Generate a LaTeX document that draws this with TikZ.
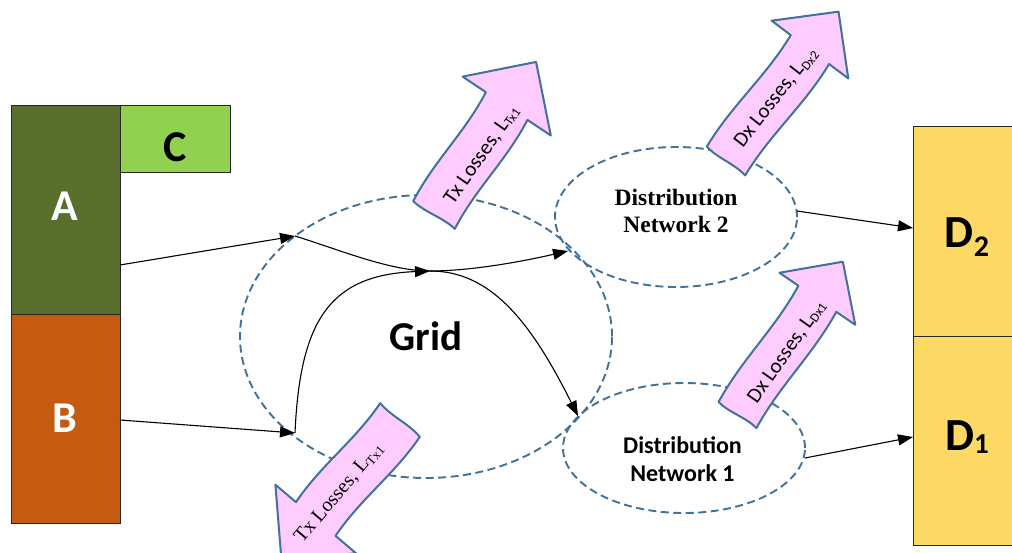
\documentclass[tikz,border=0pt]{standalone}
\usepackage{fontspec}
\setmainfont{Carlito}
\newfontfamily\serifface{Liberation Serif}
\usetikzlibrary{arrows.meta,shapes.geometric}
\definecolor{colA}{HTML}{5A6E2D}
\definecolor{colB}{HTML}{C55A11}
\definecolor{colC}{HTML}{92D050}
\definecolor{colD}{HTML}{FFD966}
\definecolor{pinkfill}{HTML}{FFCCFF}
\definecolor{blueline}{HTML}{41719C}
\newcommand{\fs}[1]{\fontsize{#1}{#1}\selectfont}
% base x, base y, angle, length, shaft half width, head half width, head length
\newcommand{\lossarrow}[7]{%
 \begin{scope}[shift={(#1,#2)},rotate=#3]
 \pgfmathsetmacro\arrS{#4-#7}
 \draw[lossshape] (0,{-#5}) .. controls ({0.35*\arrS},{-#5-5}) and ({0.65*\arrS},{-#5+5}) .. (\arrS,{-#5})
   -- (\arrS,{-#6}) -- (#4,0) -- (\arrS,#6) -- (\arrS,#5)
   .. controls ({0.65*\arrS},{#5+5}) and ({0.35*\arrS},{#5-5}) .. (0,#5)
   .. controls (3,{#5/3}) and (-3,{-#5/3}) .. (0,{-#5}) -- cycle;
 \end{scope}}
\begin{document}
\begin{tikzpicture}[x=1pt,y=-1pt,
 box/.style={draw=black!85,line width=0.9pt,inner sep=0pt},
 big/.style={font=\bfseries\fs{44},inner sep=0pt},
 net/.style={ellipse,draw=blueline,line width=1.9pt,dash pattern=on 8pt off 4.5pt,inner sep=0pt},
 conn/.style={-{Triangle[length=15pt,width=11pt]},line width=1.1pt},
 lossshape/.style={draw=blueline,fill=pinkfill,line width=2pt,line join=round},
 losstxt/.style={font=\fs{21},inner sep=0pt}]
\useasboundingbox (0,0) rectangle (1012,553);
% source and demand boxes
\node[box,fill=colA,minimum width=109pt,minimum height=209pt] (A) at (65.5,209.5) {};
\node[box,fill=colB,minimum width=109pt,minimum height=209pt] (B) at (65.5,418.5) {};
\node[box,fill=colC,minimum width=110pt,minimum height=67pt] (C) at (175,138.5) {};
\node[box,fill=colD,minimum width=107pt,minimum height=210pt] (D2) at (966.5,231) {};
\node[box,fill=colD,minimum width=107pt,minimum height=209pt] (D1) at (966.5,440.5) {};
\node[big,text=white] (At) at (65,206) {A};
\node[big,text=white] (Bt) at (65,418) {B};
\node[big] (Ct) at (175,147) {C};
\node[font=\bfseries\fs{46},inner sep=0pt,anchor=base] (D2t) at (967,248) {D\raisebox{-9pt}{\fs{30}2}};
\node[font=\bfseries\fs{46},inner sep=0pt,anchor=base] (D1t) at (967,450) {D\raisebox{-3pt}{\fs{29}1}};
% networks
\node[net,minimum width=372pt,minimum height=283pt,font=\bfseries\fs{41}] (grid) at (426,336.5) {Grid};
\node[net,minimum width=242pt,minimum height=140pt] (dn2) at (676,217) {};
\node[net,minimum width=242pt,minimum height=130pt] (dn1) at (684,448) {};
\node[align=center,font=\serifface\bfseries\fs{23.5},inner sep=0pt] (dn2t) at (676,211) {Distribution\\[4pt]Network 2};
\node[align=center,font=\bfseries\fs{24},inner sep=0pt] (dn1t) at (682.5,459) {Distribution\\[4.7pt]Network 1};
% connector points
\coordinate (aout) at (120,265);
\coordinate (bout) at (120,420);
\coordinate (gridA) at (295,236);
\coordinate (gridB) at (295,433);
\coordinate (hub) at (430,271);
\coordinate (dn2in) at (568,251);
\coordinate (dn1in) at (578,416);
\coordinate (dn2out) at (797,211);
\coordinate (dn1out) at (805,458);
\coordinate (d2in) at (913,228);
\coordinate (d1in) at (913,437);
% connectors
\draw[conn] (aout) -- (gridA);
\draw[conn] (bout) -- (gridB);
\draw[conn] (gridA) .. controls (340,250) and (390,271) .. (hub) .. controls (470,271) and (520,262) .. (dn2in);
\draw[conn] (gridB) .. controls (300,320) and (330,275) .. (hub);
\draw[conn] (hub) .. controls (490,271) and (530,320) .. (dn1in);
\draw[conn] (dn2out) -- (d2in);
\draw[conn] (dn1out) -- (d1in);
% loss arrows
\lossarrow{434}{215}{56.3}{184}{25}{53}{53}
\lossarrow{726}{161}{53}{187}{24}{48}{47.5}
\lossarrow{737.5}{415}{55.5}{186}{23}{46}{45}
\lossarrow{400}{420}{229.6}{183}{26}{53}{53}
\node[losstxt,rotate=55] (ltx1) at (482,155) {Tx Losses, L\raisebox{-2pt}{\fs{13}Tx1}};
\node[losstxt,rotate=52] (ldx2) at (776,98) {Dx Losses, L\raisebox{-3.5pt}{\fs{13}Dx2}};
\node[losstxt,rotate=55] (ldx1) at (787,352) {Dx Losses, L\raisebox{-2pt}{\fs{13}Dx1}};
\node[losstxt,font=\serifface\fs{20},rotate=49.6] (ltx1b) at (339,493) {Tx Losses, L\raisebox{-3pt}{\fs{13}Tx1}};
\end{tikzpicture}
\end{document}
